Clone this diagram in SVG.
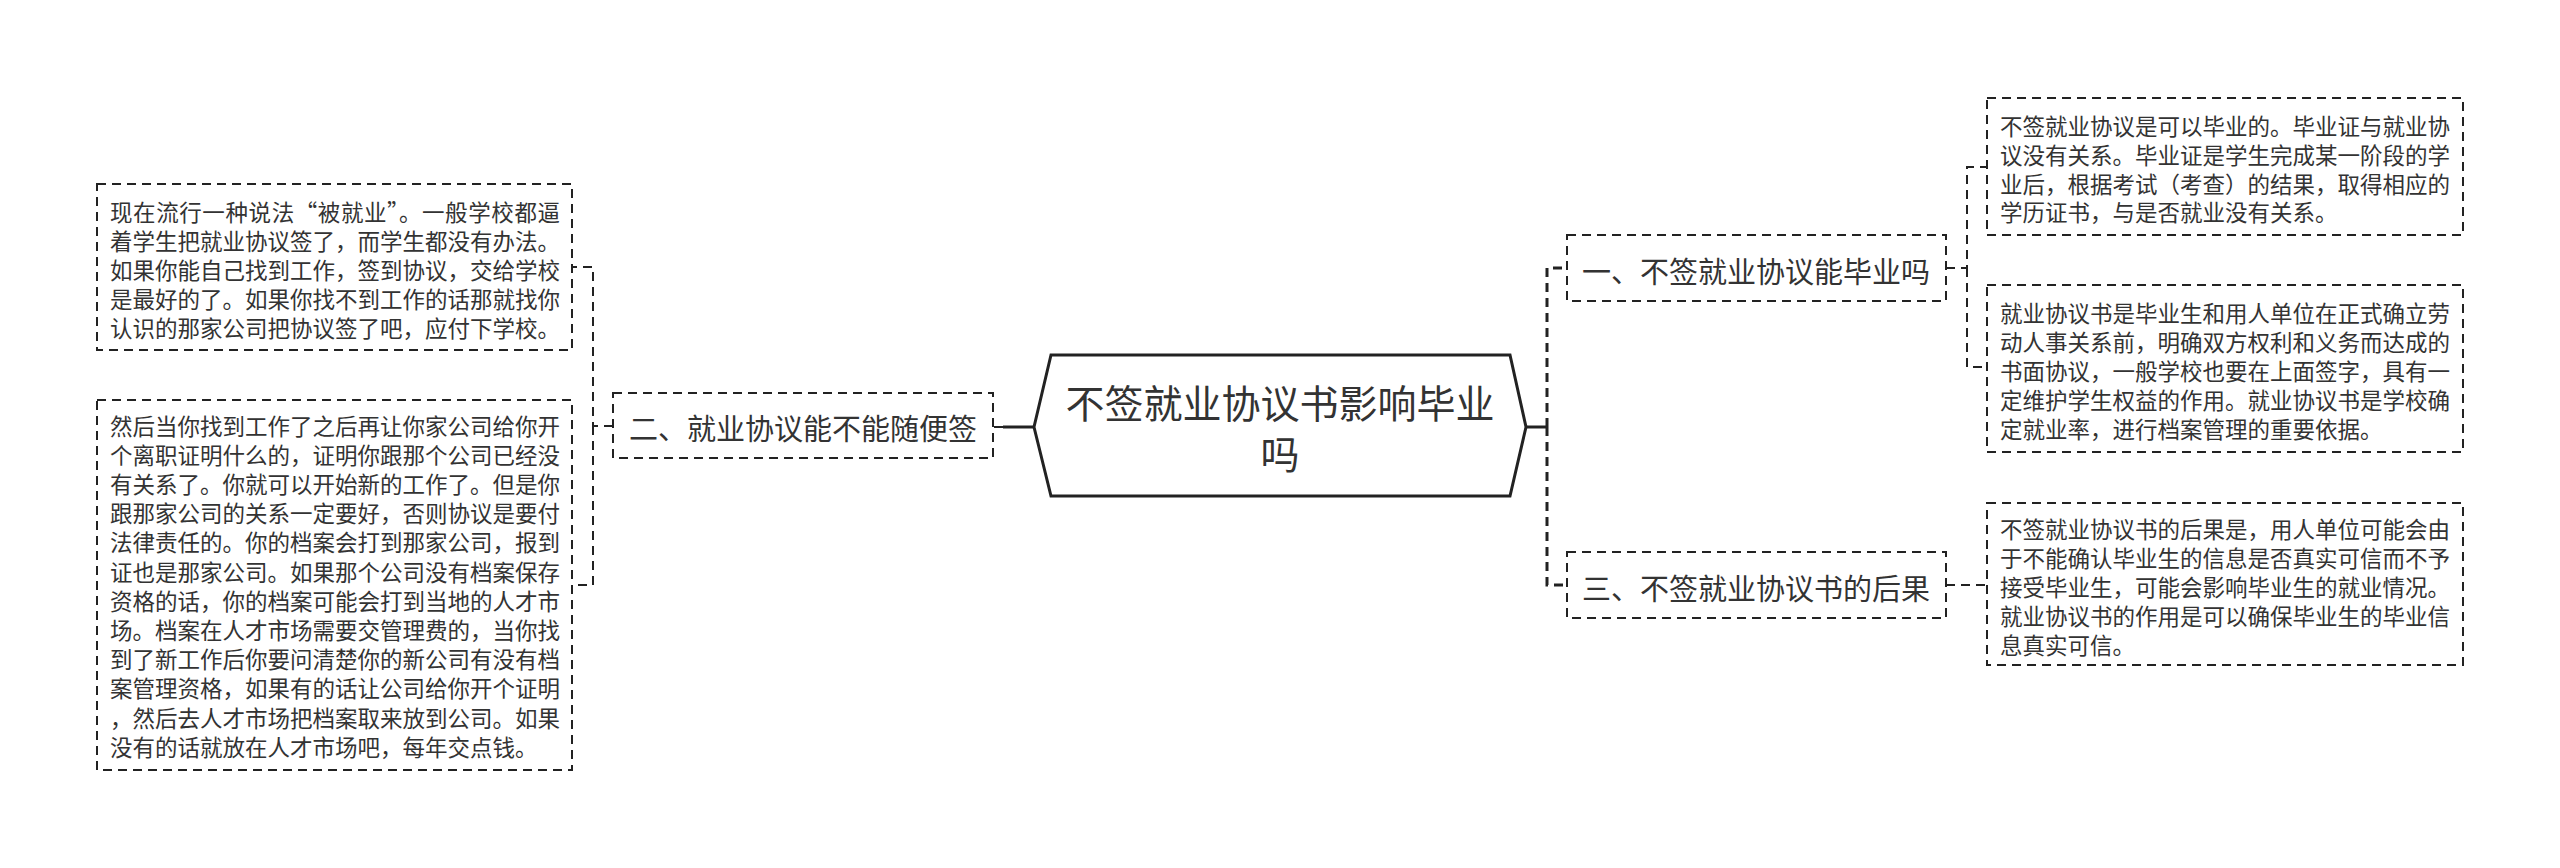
<svg xmlns="http://www.w3.org/2000/svg" width="2560" height="868" viewBox="0 0 2560 868">
<style>
  text { font-family: "Noto Sans CJK SC", "Noto Sans", sans-serif; fill: #333; dominant-baseline: central; }
  .leaf text { font-size: 22.5px; }
  .branch text { font-size: 29px; text-anchor: middle; }
  .root text { font-size: 39px; text-anchor: middle; }
  .box { fill: #fff; stroke: #222; stroke-width: 2; stroke-dasharray: 9 6; }
  .hex { fill: #fff; stroke: #222; stroke-width: 3; }
  .c1 { fill: none; stroke: #222; stroke-width: 3; }
  .c1d { fill: none; stroke: #222; stroke-width: 3; stroke-dasharray: 9 6; }
  .c2 { fill: none; stroke: #222; stroke-width: 2; stroke-dasharray: 9 6; }
</style>
<rect width="2560" height="868" fill="#fff"/>
<g id="connectors">
  <path class="c1" d="M1034 427 H1003"/>
  <path class="c2" d="M1003 427 H993"/>
  <path class="c2" d="M613 426 H593 V267 H572"/>
  <path class="c2" d="M593 426 V585 H572"/>
  <path class="c1" d="M1526 427 H1547"/>
  <path class="c1d" d="M1547 427 V268 H1567"/>
  <path class="c1d" d="M1547 427 V585 H1567"/>
  <path class="c2" d="M1946 268 H1967 V167 H1987"/>
  <path class="c2" d="M1967 268 V367 H1987"/>
  <path class="c2" d="M1946 585 H1987"/>
</g>
<g id="root" class="root">
  <polygon class="hex" points="1034,427 1051,355 1510,355 1526,427 1510,496 1051,496"/>
  <text x="1280" y="401">不签就业协议书影响毕业</text>
  <text x="1280" y="452">吗</text>
</g>
<g id="branch2" class="branch">
  <rect class="box" x="613" y="393" width="380" height="65"/>
  <text x="803" y="427">二、就业协议能不能随便签</text>
</g>
<g id="branch1" class="branch">
  <rect class="box" x="1567" y="235" width="379" height="66"/>
  <text x="1756" y="270">一、不签就业协议能毕业吗</text>
</g>
<g id="branch3" class="branch">
  <rect class="box" x="1567" y="552" width="379" height="66"/>
  <text x="1756" y="587">三、不签就业协议书的后果</text>
</g>
<g id="leaf2a" class="leaf">
  <rect class="box" x="97" y="184" width="475" height="166"/>
  <text x="110" y="211" textLength="450" lengthAdjust="spacing">现在流行一种说法“被就业”。一般学校都逼</text>
  <text x="110" y="240">着学生把就业协议签了，而学生都没有办法。</text>
  <text x="110" y="269">如果你能自己找到工作，签到协议，交给学校</text>
  <text x="110" y="298">是最好的了。如果你找不到工作的话那就找你</text>
  <text x="110" y="327">认识的那家公司把协议签了吧，应付下学校。</text>
</g>
<g id="leaf2b" class="leaf">
  <rect class="box" x="97" y="400" width="475" height="370"/>
  <text x="110" y="424.5">然后当你找到工作了之后再让你家公司给你开</text>
  <text x="110" y="453.7">个离职证明什么的，证明你跟那个公司已经没</text>
  <text x="110" y="482.9">有关系了。你就可以开始新的工作了。但是你</text>
  <text x="110" y="512.1">跟那家公司的关系一定要好，否则协议是要付</text>
  <text x="110" y="541.3">法律责任的。你的档案会打到那家公司，报到</text>
  <text x="110" y="570.5">证也是那家公司。如果那个公司没有档案保存</text>
  <text x="110" y="599.7">资格的话，你的档案可能会打到当地的人才市</text>
  <text x="110" y="628.9">场。档案在人才市场需要交管理费的，当你找</text>
  <text x="110" y="658.1">到了新工作后你要问清楚你的新公司有没有档</text>
  <text x="110" y="687.3">案管理资格，如果有的话让公司给你开个证明</text>
  <text x="110" y="716.5">，然后去人才市场把档案取来放到公司。如果</text>
  <text x="110" y="745.7">没有的话就放在人才市场吧，每年交点钱。</text>
</g>
<g id="leaf1a" class="leaf">
  <rect class="box" x="1987" y="98" width="476" height="137"/>
  <text x="2000" y="125">不签就业协议是可以毕业的。毕业证与就业协</text>
  <text x="2000" y="153.8">议没有关系。毕业证是学生完成某一阶段的学</text>
  <text x="2000" y="182.6">业后，根据考试（考查）的结果，取得相应的</text>
  <text x="2000" y="211.4">学历证书，与是否就业没有关系。</text>
</g>
<g id="leaf1b" class="leaf">
  <rect class="box" x="1987" y="285" width="476" height="167"/>
  <text x="2000" y="312.4">就业协议书是毕业生和用人单位在正式确立劳</text>
  <text x="2000" y="341.2">动人事关系前，明确双方权利和义务而达成的</text>
  <text x="2000" y="370">书面协议，一般学校也要在上面签字，具有一</text>
  <text x="2000" y="398.8">定维护学生权益的作用。就业协议书是学校确</text>
  <text x="2000" y="427.6">定就业率，进行档案管理的重要依据。</text>
</g>
<g id="leaf3a" class="leaf">
  <rect class="box" x="1987" y="503" width="476" height="162"/>
  <text x="2000" y="528.4">不签就业协议书的后果是，用人单位可能会由</text>
  <text x="2000" y="557.2">于不能确认毕业生的信息是否真实可信而不予</text>
  <text x="2000" y="586">接受毕业生，可能会影响毕业生的就业情况。</text>
  <text x="2000" y="614.8">就业协议书的作用是可以确保毕业生的毕业信</text>
  <text x="2000" y="643.6">息真实可信。</text>
</g>
</svg>
